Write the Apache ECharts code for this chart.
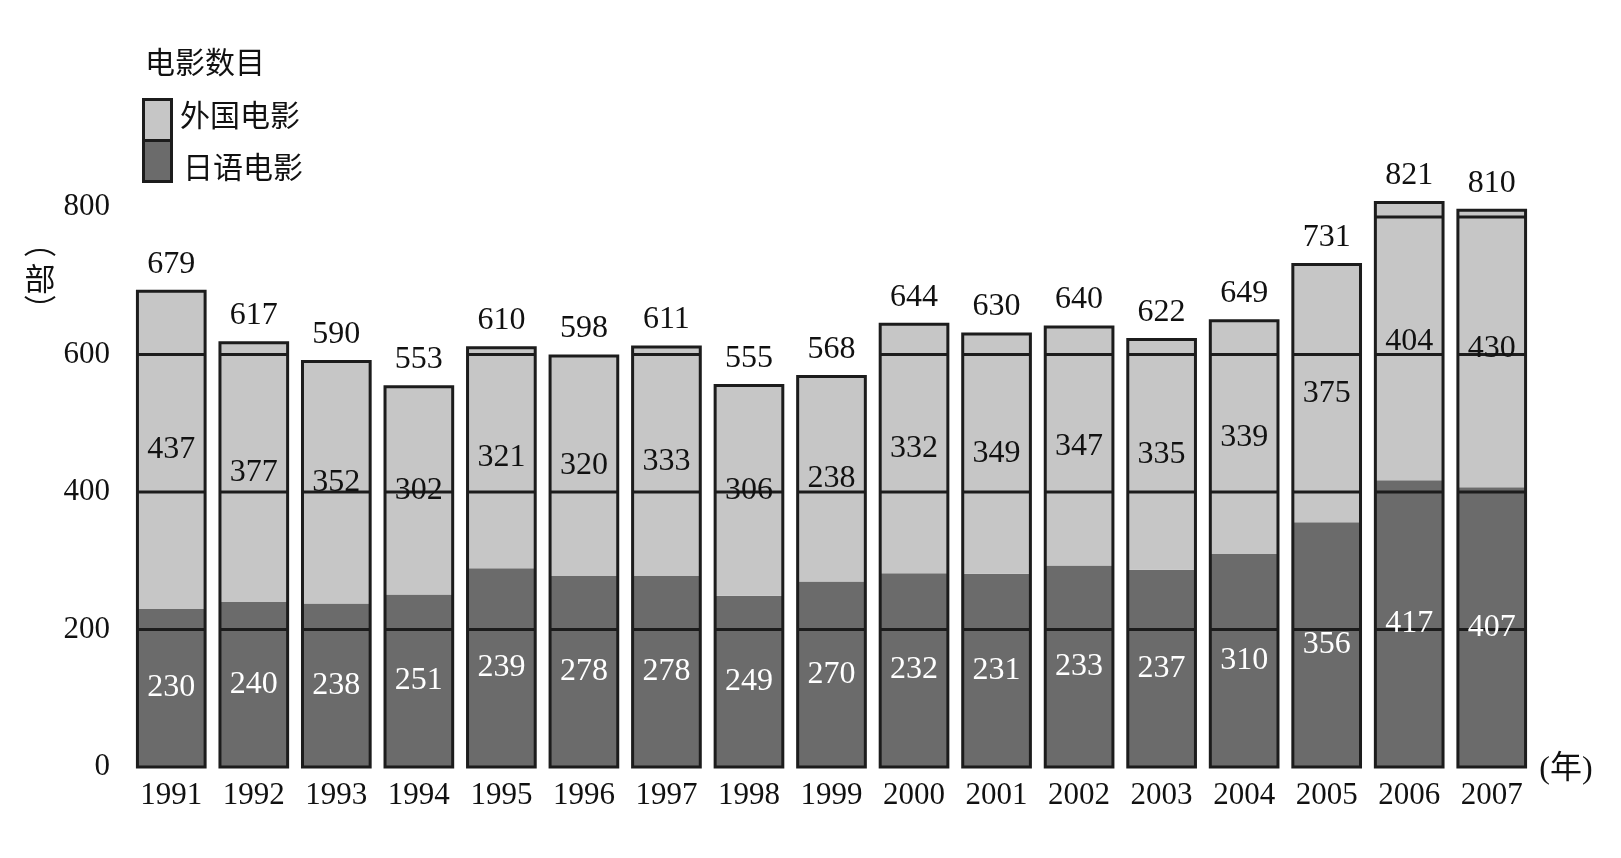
<!DOCTYPE html>
<html>
<head>
<meta charset="utf-8">
<script src="https://cdn.jsdelivr.net/npm/echarts@6/dist/echarts.min.js"></script>
<style>
html,body{margin:0;padding:0;background:#fff;}
#c{width:1621px;height:858px;}
</style>
</head>
<body>
<div id="c"></div>
<script>
// ---- data ----
const years = ['1991','1992','1993','1994','1995','1996','1997','1998','1999','2000','2001','2002','2003','2004','2005','2006','2007'];
// bar heights as drawn in the picture
const japaneseFilms = [230,240,238,251,289,278,278,249,270,282,281,293,287,310,356,417,407];
const foreignFilms  = [462,377,352,302,321,320,333,306,298,362,349,347,335,339,375,404,403];
// numbers as printed on the picture
const japaneseLabels = ['230','240','238','251','239','278','278','249','270','232','231','233','237','310','356','417','407'];
const foreignLabels  = ['437','377','352','302','321','320','333','306','238','332','349','347','335','339','375','404','430'];
const totalLabels    = ['679','617','590','553','610','598','611','555','568','644','630','640','622','649','731','821','810'];
const yTicks = [0,200,400,600,800];

const DARK = '#6b6b6b', LIGHT = '#c6c6c6', INK = '#1c1c1c';
const NUM_FONT = '"Liberation Serif","Times New Roman",serif';
const CJK_FONT = '"Noto Sans CJK SC","Noto Sans CJK JP",sans-serif';
const MIX_FONT = '"Liberation Serif","Noto Sans CJK SC",serif';

const seriesData = years.map((y, i) => [i, japaneseFilms[i], japaneseFilms[i] + foreignFilms[i]]);

function renderItem(params, api) {
  const i = api.value(0);
  const jp = api.value(1);
  const tot = api.value(2);
  const base = api.coord([i, 0]);
  const pJ = api.coord([i, jp]);
  const pT = api.coord([i, tot]);
  const bw = api.size([1, 0])[0] * 0.82;
  const x = base[0] - bw / 2;
  const ch = [
    { type: 'rect', shape: { x: x, y: pJ[1], width: bw, height: base[1] - pJ[1] }, style: { fill: DARK } },
    { type: 'rect', shape: { x: x, y: pT[1], width: bw, height: pJ[1] - pT[1] }, style: { fill: LIGHT } }
  ];
  yTicks.forEach(t => {
    if (t > 0 && t < tot) {
      const py = api.coord([i, t])[1];
      ch.push({ type: 'line', shape: { x1: x, y1: py, x2: x + bw, y2: py }, style: { stroke: INK, lineWidth: 3 } });
    }
  });
  ch.push({ type: 'rect', shape: { x: x, y: pT[1], width: bw, height: base[1] - pT[1] }, style: { fill: 'none', stroke: INK, lineWidth: 3 } });
  ch.push({ type: 'text', style: { text: japaneseLabels[i], x: base[0], y: (base[1] + pJ[1]) / 2, align: 'center', verticalAlign: 'middle', fill: '#ffffff', fontSize: 32, fontFamily: NUM_FONT } });
  ch.push({ type: 'text', style: { text: foreignLabels[i], x: base[0], y: (pJ[1] + pT[1]) / 2, align: 'center', verticalAlign: 'middle', fill: '#111111', fontSize: 32, fontFamily: NUM_FONT } });
  ch.push({ type: 'text', style: { text: totalLabels[i], x: base[0], y: pT[1] - 27, align: 'center', verticalAlign: 'middle', fill: '#111111', fontSize: 32, fontFamily: NUM_FONT } });
  return { type: 'group', children: ch };
}

const A = 0.675;
const chart = echarts.init(document.getElementById('c'), null, { renderer: 'canvas' });
chart.setOption({
  backgroundColor: '#ffffff',
  animation: false,
  grid: { left: 130, right: 88, top: 217, bottom: 91, containLabel: false },
  xAxis: {
    type: 'category',
    data: years,
    axisLine: { show: false },
    axisTick: { show: false },
    axisLabel: { fontSize: 31, fontFamily: NUM_FONT, color: '#111111', margin: 13, interval: 0 }
  },
  yAxis: {
    type: 'value',
    min: 0, max: 800, interval: 200,
    axisLine: { show: false },
    axisTick: { show: false },
    splitLine: { show: false },
    axisLabel: {
      fontSize: 31, fontFamily: NUM_FONT, color: '#111111', margin: 20,
      formatter: v => v === 800 ? '{t|800}' : String(v),
      rich: { t: { fontSize: 31, fontFamily: NUM_FONT, color: '#111111', padding: [0, 0, 20, 0] } }
    }
  },
  series: [{
    type: 'custom',
    renderItem: renderItem,
    data: seriesData,
    clip: false,
    encode: { x: 0, y: [1, 2] }
  }],
  graphic: [
    { type: 'text', x: 145, y: 62, style: { text: '电影数目', fontSize: 30, fontFamily: CJK_FONT, fill: '#111111', verticalAlign: 'middle' } },
    { type: 'rect', shape: { x: 143.5, y: 99.5, width: 28, height: 41 }, style: { fill: LIGHT, stroke: INK, lineWidth: 3 } },
    { type: 'rect', shape: { x: 143.5, y: 140.5, width: 28, height: 41 }, style: { fill: DARK, stroke: INK, lineWidth: 3 } },
    { type: 'text', x: 180, y: 115, style: { text: '外国电影', fontSize: 30, fontFamily: CJK_FONT, fill: '#111111', verticalAlign: 'middle' } },
    { type: 'text', x: 183, y: 167, style: { text: '日语电影', fontSize: 30, fontFamily: CJK_FONT, fill: '#111111', verticalAlign: 'middle' } },
    { type: 'text', x: 40, y: 278, style: { text: '部', fontSize: 31, fontFamily: CJK_FONT, fill: '#111111', align: 'center', verticalAlign: 'middle' } },
    { type: 'arc', shape: { cx: 40, cy: 274, r: 24, startAngle: -Math.PI / 2 - A, endAngle: -Math.PI / 2 + A, clockwise: true }, style: { stroke: '#111111', lineWidth: 2, fill: 'none' } },
    { type: 'arc', shape: { cx: 40, cy: 278, r: 24, startAngle: Math.PI / 2 - A, endAngle: Math.PI / 2 + A, clockwise: true }, style: { stroke: '#111111', lineWidth: 2, fill: 'none' } },
    { type: 'text', x: 1566, y: 770, style: { text: '(年)', fontSize: 32, fontFamily: MIX_FONT, fill: '#111111', align: 'center', verticalAlign: 'middle' } }
  ]
});
</script>
</body>
</html>
